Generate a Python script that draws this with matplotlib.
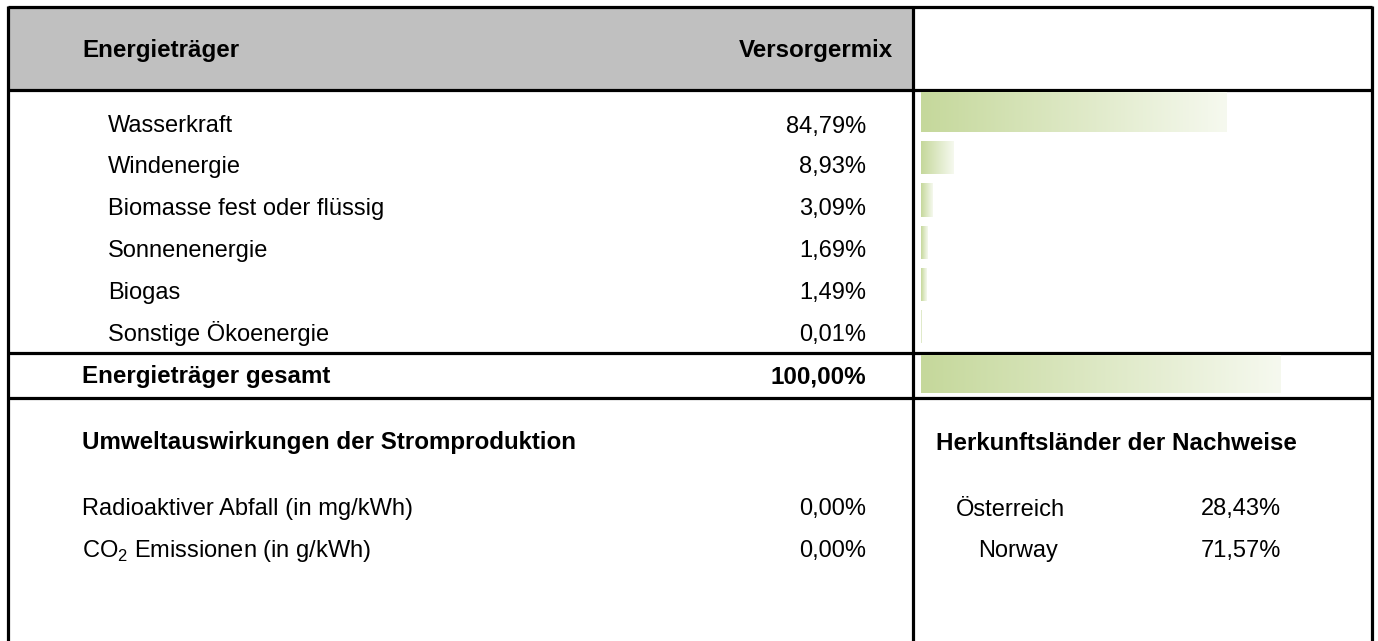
import numpy as np
import matplotlib
matplotlib.use("Agg")
import matplotlib.pyplot as plt
from matplotlib.colors import LinearSegmentedColormap

plt.rcParams['font.family'] = ['Liberation Sans', 'DejaVu Sans']

# data
sources = ["Wasserkraft", "Windenergie", "Biomasse fest oder flüssig",
           "Sonnenenergie", "Biogas", "Sonstige Ökoenergie"]
shares = [84.79, 8.93, 3.09, 1.69, 1.49, 0.01]
total = 100.00
impacts = ["Radioaktiver Abfall (in mg/kWh)", "CO$_\\mathregular{2}$ Emissionen (in g/kWh)"]
impact_vals = [0.00, 0.00]
countries = ["Österreich", "Norway"]
country_shares = [28.43, 71.57]


def pct(v):
    return f"{v:.2f}%".replace(".", ",")


W, H = 1378, 641
fig = plt.figure(figsize=(W / 100, H / 100), dpi=100)
ax = fig.add_axes([0, 0, 1, 1])
ax.set_xlim(0, W)
ax.set_ylim(H, 0)
ax.axis("off")

# bar axes: x in percent, 0 -> px 921, 100 -> px 1281
x0, scale = 921, 3.6
bx = fig.add_axes([0, 0, 1, 1])
bx.patch.set_alpha(0)
bx.axis("off")

fs = 17
fsb = 17.4
lw = 2.3
grey = "#c0c0c0"
off = 8.5  # baseline below visual text centre

# header background
ax.fill_between([8, 913], 7, 90, color=grey, lw=0)

# grid lines
for y in [7, 90, 353, 398]:
    ax.plot([8, 1372], [y, y], color="black", lw=lw, solid_capstyle="butt")
for x in [8, 913, 1372]:
    ax.plot([x, x], [6, H], color="black", lw=lw, solid_capstyle="butt")

# header
ax.text(82, 48 + off, "Energieträger", fontsize=fsb, fontweight="bold", va="baseline")
ax.text(893, 48 + off, "Versorgermix", fontsize=fsb, fontweight="bold", va="baseline", ha="right")

cmap = LinearSegmentedColormap.from_list("g", ["#c5d89b", "#f6f9ef"])
grad = np.linspace(0, 1, 256).reshape(1, -1)


def grad_bars(bars):
    for b in bars:
        bx.imshow(grad, cmap=cmap, aspect="auto", interpolation="bicubic",
                  extent=(b.get_x(), b.get_x() + b.get_width(),
                          b.get_y() + b.get_height(), b.get_y()))


row_y = [124, 165, 207, 249, 291, 333]
bar_c = [112, 157.5, 200, 242.5, 285, 327]
bar_h = [40, 33, 34, 33, 33, 33]
for name, v, y, c, h in zip(sources, shares, row_y, bar_c, bar_h):
    ax.text(108, y + off, name, fontsize=fs, va="baseline")
    ax.text(866, y + off, pct(v), fontsize=fs, va="baseline", ha="right")
    grad_bars(bx.barh([c], [v], height=h, left=0, color="none", lw=0))

# total row
ax.text(82, 375 + off, "Energieträger gesamt", fontsize=fsb, fontweight="bold", va="baseline")
ax.text(866, 375 + off, pct(total), fontsize=fsb, fontweight="bold", va="baseline", ha="right")
grad_bars(bx.barh([374], [total], height=38, left=0, color="none", lw=0))

bx.set_xlim(-x0 / scale, (W - x0) / scale)
bx.set_ylim(H, 0)

# impacts
ax.text(82, 441 + off, "Umweltauswirkungen der Stromproduktion", fontsize=fsb,
        fontweight="bold", va="baseline")
for name, v, y in zip(impacts, impact_vals, [507, 548]):
    ax.text(82, y + off, name, fontsize=fs, va="baseline")
    ax.text(866, y + off, pct(v), fontsize=fs, va="baseline", ha="right")

# countries
ax.text(936, 441 + off, "Herkunftsländer der Nachweise", fontsize=fsb,
        fontweight="bold", va="baseline")
for name, v, y, xl in zip(countries, country_shares, [507, 548], [956, 978]):
    ax.text(xl, y + off, name, fontsize=fs, va="baseline")
    ax.text(1281, y + off, pct(v), fontsize=fs, va="baseline", ha="right")

fig.savefig("out.png", dpi=100)
